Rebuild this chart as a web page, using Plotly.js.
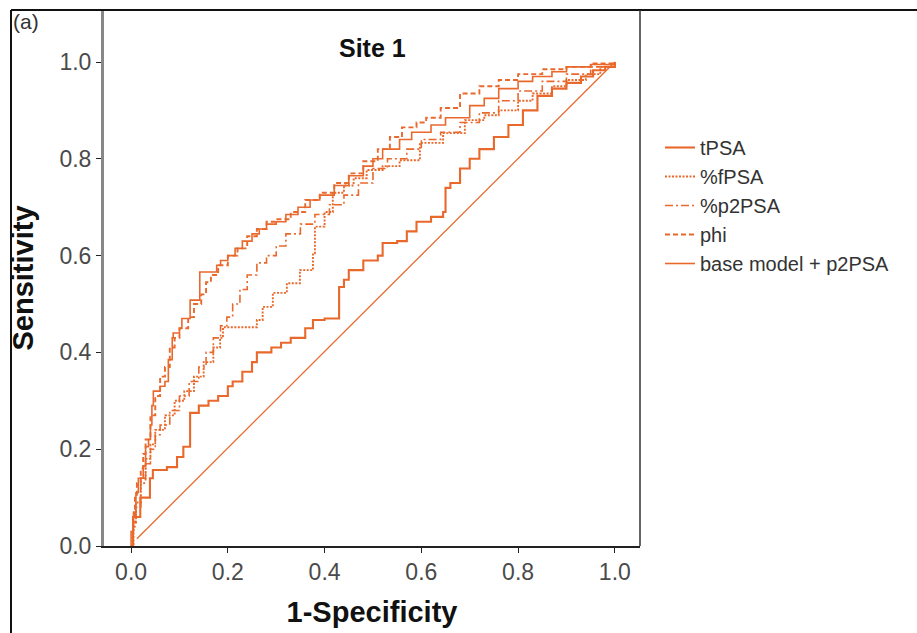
<!DOCTYPE html>
<html>
<head>
<meta charset="utf-8">
<script src="https://cdn.plot.ly/plotly-3.0.1.min.js"></script>
<style>html,body{margin:0;padding:0;background:#fff;}#chart{width:917px;height:633px;}</style>
</head>
<body>
<div id="chart"></div>
<script>
// ---- data ----
const seriesNames = ["tPSA", "%fPSA", "%p2PSA", "phi", "base model + p2PSA"];

const tpsaX = [0, 0.004, 0.019, 0.039, 0.045, 0.074, 0.095, 0.108, 0.122, 0.14, 0.16, 0.18, 0.2, 0.21, 0.23, 0.25, 0.26, 0.29, 0.31, 0.33, 0.36, 0.376, 0.40, 0.425, 0.43, 0.44, 0.45, 0.48, 0.51, 0.52, 0.55, 0.57, 0.59, 0.62, 0.645, 0.65, 0.66, 0.68, 0.70, 0.72, 0.75, 0.78, 0.81, 0.84, 0.87, 0.90, 0.93, 0.955, 0.98, 1.0];
const tpsaY = [0, 0.06, 0.10, 0.14, 0.157, 0.163, 0.184, 0.205, 0.275, 0.29, 0.30, 0.31, 0.33, 0.34, 0.36, 0.38, 0.40, 0.41, 0.42, 0.43, 0.45, 0.467, 0.47, 0.47, 0.535, 0.55, 0.57, 0.59, 0.60, 0.626, 0.63, 0.65, 0.67, 0.68, 0.69, 0.74, 0.75, 0.78, 0.80, 0.82, 0.845, 0.87, 0.90, 0.93, 0.945, 0.957, 0.97, 0.983, 0.99, 1.0];

const fpsaX = [0, 0.005, 0.01, 0.02, 0.03, 0.04, 0.05, 0.07, 0.09, 0.11, 0.13, 0.15, 0.17, 0.184, 0.19, 0.26, 0.272, 0.293, 0.322, 0.349, 0.376, 0.38, 0.40, 0.417, 0.44, 0.46, 0.487, 0.52, 0.555, 0.597, 0.645, 0.69, 0.73, 0.76, 0.80, 0.83, 0.87, 0.90, 0.94, 0.97, 1.0];
const fpsaY = [0, 0.05, 0.09, 0.14, 0.18, 0.21, 0.24, 0.27, 0.30, 0.32, 0.35, 0.38, 0.41, 0.43, 0.452, 0.467, 0.494, 0.523, 0.543, 0.57, 0.605, 0.66, 0.69, 0.73, 0.745, 0.76, 0.777, 0.785, 0.797, 0.833, 0.853, 0.88, 0.89, 0.90, 0.92, 0.935, 0.95, 0.963, 0.975, 0.99, 1.0];

const p2psaX = [0, 0.004, 0.01, 0.02, 0.03, 0.04, 0.05, 0.06, 0.08, 0.10, 0.12, 0.14, 0.155, 0.17, 0.185, 0.198, 0.21, 0.225, 0.24, 0.26, 0.28, 0.30, 0.32, 0.35, 0.38, 0.41, 0.44, 0.47, 0.50, 0.53, 0.57, 0.60, 0.64, 0.68, 0.72, 0.76, 0.80, 0.85, 0.90, 0.95, 1.0];
const p2psaY = [0, 0.04, 0.08, 0.13, 0.17, 0.20, 0.23, 0.25, 0.28, 0.31, 0.34, 0.37, 0.40, 0.43, 0.455, 0.473, 0.50, 0.53, 0.56, 0.585, 0.60, 0.62, 0.645, 0.665, 0.685, 0.705, 0.725, 0.75, 0.78, 0.80, 0.82, 0.84, 0.855, 0.875, 0.895, 0.92, 0.94, 0.96, 0.975, 0.99, 1.0];

const phiX = [0, 0.004, 0.008, 0.012, 0.02, 0.025, 0.03, 0.04, 0.05, 0.06, 0.07, 0.08, 0.09, 0.10, 0.118, 0.13, 0.145, 0.155, 0.165, 0.18, 0.20, 0.22, 0.24, 0.26, 0.28, 0.30, 0.33, 0.36, 0.39, 0.42, 0.45, 0.48, 0.51, 0.535, 0.56, 0.59, 0.61, 0.64, 0.68, 0.72, 0.76, 0.80, 0.85, 0.90, 0.95, 1.0];
const phiY = [0, 0.05, 0.10, 0.13, 0.16, 0.19, 0.22, 0.27, 0.31, 0.35, 0.37, 0.41, 0.43, 0.45, 0.473, 0.50, 0.52, 0.545, 0.56, 0.58, 0.60, 0.615, 0.64, 0.655, 0.67, 0.675, 0.69, 0.715, 0.73, 0.75, 0.77, 0.795, 0.82, 0.845, 0.865, 0.875, 0.885, 0.905, 0.935, 0.95, 0.963, 0.975, 0.985, 0.99, 0.997, 1.0];

const baseX = [0, 0, 0.005, 0.01, 0.015, 0.025, 0.03, 0.036, 0.04, 0.043, 0.046, 0.06, 0.07, 0.077, 0.085, 0.087, 0.10, 0.105, 0.122, 0.142, 0.177, 0.185, 0.20, 0.215, 0.23, 0.25, 0.265, 0.28, 0.30, 0.32, 0.345, 0.37, 0.39, 0.42, 0.45, 0.48, 0.50, 0.52, 0.555, 0.58, 0.62, 0.65, 0.70, 0.73, 0.76, 0.80, 0.83, 0.87, 0.90, 0.95, 1.0];
const baseY = [0, 0.03, 0.07, 0.11, 0.14, 0.165, 0.205, 0.22, 0.25, 0.29, 0.32, 0.33, 0.34, 0.385, 0.43, 0.44, 0.45, 0.47, 0.508, 0.566, 0.58, 0.59, 0.60, 0.615, 0.63, 0.645, 0.655, 0.665, 0.67, 0.685, 0.70, 0.715, 0.725, 0.745, 0.765, 0.785, 0.80, 0.82, 0.84, 0.855, 0.87, 0.885, 0.91, 0.925, 0.945, 0.96, 0.97, 0.98, 0.99, 0.995, 1.0];

const refX = [0.012, 1.0];
const refY = [0.015, 1.0];

const tickVals = [0, 0.2, 0.4, 0.6, 0.8, 1.0];
const tickText = ["0.0", "0.2", "0.4", "0.6", "0.8", "1.0"];

// ---- styles ----
const orange = "#e9692c";
const FONT = "Liberation Sans, Arial, sans-serif";

function roc(name, x, y, dash, width) {
  return {
    type: "scatter", mode: "lines", name: name, x: x, y: y,
    line: {color: orange, width: width, dash: dash, shape: "hv"},
    legendgroup: name, hoverinfo: "skip"
  };
}

const traces = [
  roc(seriesNames[0], tpsaX, tpsaY, "solid", 2.1),
  roc(seriesNames[1], fpsaX, fpsaY, "2px,1.5px", 1.9),
  roc(seriesNames[2], p2psaX, p2psaY, "8px,3px,2px,3px", 1.6),
  roc(seriesNames[3], phiX, phiY, "5px,3px", 1.9),
  roc(seriesNames[4], baseX, baseY, "solid", 1.6),
  {type: "scatter", mode: "lines", x: refX, y: refY, showlegend: false,
   line: {color: orange, width: 1.3}, hoverinfo: "skip"}
];

const L = 104, R = 640, T = 10, B = 546, W = 917, H = 633;
const pw = R - L, ph = B - T;
const px = v => (v - L) / pw;
const py = v => (B - v) / ph;

const layout = {
  width: W, height: H,
  margin: {l: L, r: W - R, t: T, b: H - B, pad: 0},
  paper_bgcolor: "#fff", plot_bgcolor: "#fff",
  font: {family: FONT, color: "#333", size: 17},
  showlegend: true,
  legend: {
    x: px(660), y: py(128), xanchor: "left", yanchor: "top",
    font: {family: FONT, size: 20, color: "#333"},
    traceorder: "grouped", tracegroupgap: 0,
    bgcolor: "rgba(0,0,0,0)", itemwidth: 30
  },
  xaxis: {
    range: [-0.056, 1.052], autorange: false,
    tickvals: tickVals, ticktext: tickText,
    ticks: "outside", ticklen: 5, tickwidth: 1, tickcolor: "#222",
    showline: true, linecolor: "#222", linewidth: 1.5,
    showgrid: false, zeroline: false,
    tickfont: {family: FONT, size: 23, color: "#4a4a4a"},
    title: {text: "1-Specificity", font: {family: FONT, size: 29, color: "#111", weight: "bold"}, standoff: 17},
    automargin: false, fixedrange: true
  },
  yaxis: {
    range: [0, 1.1075], autorange: false,
    tickvals: tickVals, ticktext: tickText,
    ticks: "outside", ticklen: 5, tickwidth: 1, tickcolor: "#222",
    showline: true, linecolor: "#888", linewidth: 3,
    showgrid: false, zeroline: false,
    tickfont: {family: FONT, size: 23, color: "#4a4a4a"},
    title: {text: "Sensitivity", font: {family: FONT, size: 29, color: "#111", weight: "bold"}, standoff: 18},
    automargin: false, fixedrange: true
  },
  shapes: [
    {type: "line", xref: "paper", yref: "paper", x0: px(11), x1: px(917), y0: 1, y1: 1, line: {color: "#111", width: 2}},
    {type: "line", xref: "paper", yref: "paper", x0: px(11), x1: px(11), y0: 1, y1: py(633), line: {color: "#111", width: 2}},
    {type: "line", xref: "paper", yref: "paper", x0: 1, x1: 1, y0: 0, y1: 1, line: {color: "#333", width: 1.5}}
  ],
  annotations: [
    {text: "Site 1", xref: "paper", yref: "paper", x: px(372), y: py(48), xanchor: "center", yanchor: "middle",
     showarrow: false, font: {family: FONT, size: 25, color: "#111", weight: "bold"}},
    {text: "(a)", xref: "paper", yref: "paper", x: px(11), y: py(21), xanchor: "left", yanchor: "middle",
     showarrow: false, font: {family: FONT, size: 21, color: "#333"}}
  ]
};

Plotly.newPlot("chart", traces, layout, {staticPlot: true, displayModeBar: false});
</script>
</body>
</html>
